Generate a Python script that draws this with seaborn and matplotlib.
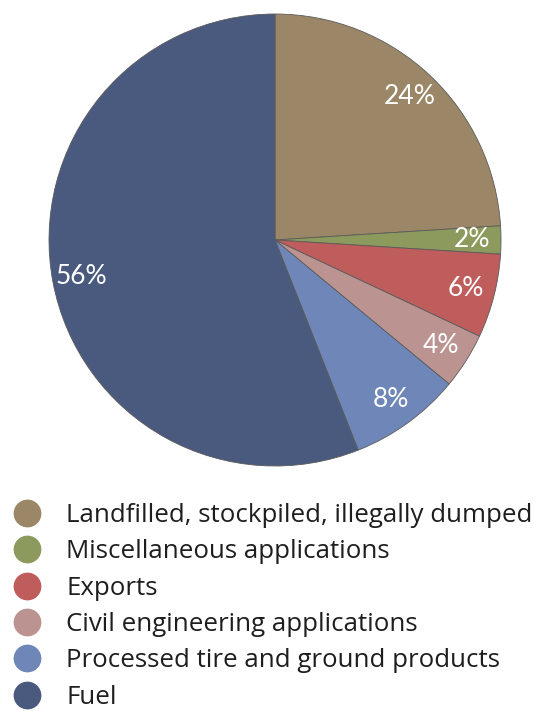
import matplotlib
matplotlib.use("Agg")
import matplotlib.pyplot as plt
from matplotlib.lines import Line2D
import seaborn as sns

categories = [
    "Landfilled, stockpiled, illegally dumped",
    "Miscellaneous applications",
    "Exports",
    "Civil engineering applications",
    "Processed tire and ground products",
    "Fuel",
]
shares = [24, 2, 6, 4, 8, 56]
colors = ["#9b8767", "#8d9a5d", "#bf5c5c", "#bb9492", "#6f87b8", "#4a5a7f"]

sns.set_theme(style="white")
plt.rcParams["font.family"] = ["Open Sans", "DejaVu Sans"]

fig = plt.figure(figsize=(5.39, 7.11), dpi=100)
ax = fig.add_axes([0.0909, 0.3446, 0.8386, 0.6357])

wedges, texts, autotexts = ax.pie(
    shares,
    colors=colors,
    startangle=90,
    counterclock=False,
    autopct=lambda p: f"{p:.0f}%",
    pctdistance=0.87,
    wedgeprops=dict(edgecolor="#5a5a5a", linewidth=0.6),
    textprops=dict(color="white", fontsize=19, family=["Lato", "DejaVu Sans"]),
)
ax.set_aspect("equal")
ax.set_xlim(-1, 1)
ax.set_ylim(-1, 1)
ax.axis("off")

handles = [
    Line2D([], [], marker="o", linestyle="", markersize=20,
           markerfacecolor=c, markeredgecolor="none")
    for c in colors
]
fig.legend(
    handles, categories,
    loc="upper left",
    bbox_to_anchor=(0.0176, 1 - 503 / 711),
    frameon=False,
    fontsize=18.6,
    labelspacing=0.44,
    handletextpad=0.85,
    handlelength=1.35,
    borderpad=0.0,
    borderaxespad=0.0,
    labelcolor="#1e1e1e",
)

fig.savefig("out.png", dpi=100, facecolor="white")
